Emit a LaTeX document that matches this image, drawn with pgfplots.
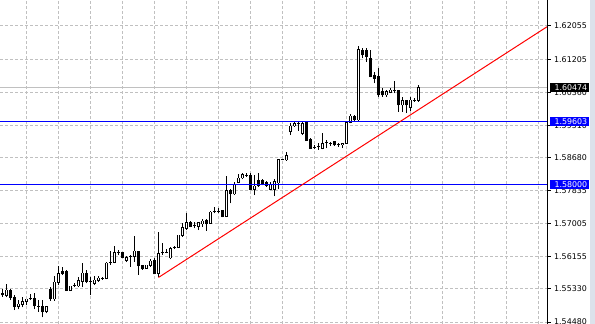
\documentclass[border=0pt]{standalone}
\usepackage{fontspec}
\usepackage{pgfplots}
\usepackage{pgfplotstable}
\pgfplotsset{compat=1.18}
\newfontfamily\tahoma{DejaVu Sans}
\newcommand{\lblfont}{\tahoma\fontsize{7.9bp}{9bp}\selectfont}
\definecolor{gridgray}{RGB}{192,192,192}
\definecolor{mtblue}{RGB}{0,0,255}
\definecolor{strip}{RGB}{220,226,235}
% x = bar number, L = low, B1 = body bottom, B2 = body top, H = high
\pgfplotstableread{
x L B1 B2 H
2 1.55112 1.55153 1.55299 1.55452
5 1.54805 1.54871 1.54941 1.55043
6 1.54856 1.54933 1.55010 1.55112
7 1.54907 1.55010 1.55069 1.55081
8 1.55043 1.55074 1.55074 1.55197
10 1.54744 1.54890 1.54890 1.55043
12 1.54703 1.54744 1.54882 1.54895
14 1.55025 1.55069 1.55504 1.55657
15 1.55419 1.55496 1.55716 1.55921
18 1.55273 1.55281 1.55401 1.55414
19 1.55368 1.55414 1.55414 1.55470
20 1.55368 1.55401 1.55537 1.55639
21 1.55368 1.55511 1.55734 1.55982
23 1.55171 1.55517 1.55517 1.55639
24 1.55427 1.55470 1.55555 1.55657
25 1.55511 1.55537 1.55606 1.55657
26 1.55555 1.55598 1.55598 1.55639
27 1.55573 1.55588 1.55990 1.56015
28 1.55939 1.56008 1.56008 1.56305
29 1.55982 1.56008 1.56264 1.56425
30 1.56195 1.56264 1.56264 1.56323
32 1.56015 1.56049 1.56136 1.56169
33 1.55895 1.56151 1.56151 1.56195
34 1.56023 1.56151 1.56297 1.56681
37 1.55837 1.55844 1.55939 1.55946
38 1.55895 1.55921 1.56041 1.56085
40 1.55620 1.55726 1.56238 1.56783
41 1.56195 1.56253 1.56253 1.56494
42 1.56238 1.56264 1.56264 1.56340
43 1.56085 1.56118 1.56366 1.56407
44 1.56356 1.56381 1.56381 1.56425
45 1.56384 1.56392 1.56706 1.56714
46 1.56663 1.56699 1.56903 1.57006
47 1.56834 1.56878 1.57031 1.57277
49 1.56878 1.56945 1.56945 1.57031
50 1.56834 1.56919 1.57021 1.57047
51 1.56919 1.56988 1.57065 1.57108
53 1.56998 1.57006 1.57295 1.57328
54 1.57262 1.57313 1.57313 1.57415
55 1.57262 1.57313 1.57313 1.57390
57 1.57167 1.57175 1.57840 1.58216
59 1.57730 1.57756 1.57986 1.58070
60 1.58030 1.58045 1.58165 1.58267
61 1.58132 1.58165 1.58249 1.58301
62 1.58198 1.58242 1.58242 1.58285
64 1.57730 1.57876 1.57960 1.58242
68 1.57858 1.57876 1.57994 1.58070
69 1.57704 1.57876 1.58070 1.58132
70 1.57883 1.58037 1.58638 1.58664
71 1.58613 1.58638 1.58638 1.58664
72 1.58607 1.58625 1.58735 1.58830
73 1.59265 1.59350 1.59496 1.59565
74 1.59478 1.59496 1.59565 1.59606
75 1.59375 1.59560 1.59560 1.59606
76 1.59265 1.59309 1.59565 1.59591
79 1.58899 1.58950 1.58950 1.59009
80 1.58882 1.58966 1.58966 1.59053
81 1.58899 1.58925 1.59053 1.59324
82 1.58925 1.59078 1.59078 1.59137
83 1.58984 1.59053 1.59053 1.59094
85 1.58966 1.59035 1.59035 1.59068
86 1.58925 1.59017 1.59053 1.59068
87 1.59035 1.59053 1.59591 1.59606
88 1.59565 1.59591 1.59752 1.59803
90 1.59611 1.59649 1.61453 1.61543
97 1.60245 1.60289 1.60373 1.60417
98 1.60332 1.60358 1.60417 1.60460
99 1.60332 1.60404 1.60404 1.60655
101 1.59862 1.60033 1.60143 1.60245
103 1.59880 1.59974 1.60161 1.60245
104 1.60117 1.60161 1.60161 1.60205
105 1.60117 1.60143 1.60474 1.60545
}\bull
\pgfplotstableread{
x L B1 B2 H
1 1.55127 1.55171 1.55222 1.55317
3 1.55043 1.55112 1.55299 1.55312
4 1.54787 1.54871 1.55112 1.55171
9 1.54805 1.54889 1.55087 1.55230
11 1.54600 1.54736 1.54882 1.55043
13 1.55025 1.55069 1.55325 1.55368
16 1.55683 1.55716 1.55777 1.55895
17 1.55273 1.55281 1.55767 1.55811
22 1.55470 1.55511 1.55734 1.55811
31 1.56131 1.56136 1.56253 1.56259
35 1.55683 1.55921 1.56297 1.56305
36 1.55811 1.55837 1.55939 1.55946
39 1.55696 1.55708 1.56067 1.56110
48 1.56903 1.56919 1.57031 1.57072
52 1.56816 1.56988 1.57072 1.57108
56 1.57159 1.57175 1.57328 1.57346
58 1.57518 1.57756 1.57858 1.57876
63 1.57858 1.57876 1.58242 1.58301
65 1.57942 1.57960 1.58096 1.58285
66 1.57978 1.58011 1.58096 1.58132
67 1.57942 1.57978 1.58062 1.58096
77 1.59112 1.59120 1.59591 1.59598
78 1.58907 1.58925 1.59163 1.59181
84 1.58984 1.59009 1.59094 1.59120
89 1.59624 1.59649 1.59734 1.59777
91 1.61228 1.61313 1.61441 1.61484
92 1.61141 1.61269 1.61423 1.61484
93 1.60742 1.60757 1.61228 1.61441
94 1.60588 1.60716 1.60801 1.60885
95 1.60246 1.60289 1.60757 1.60972
96 1.60245 1.60289 1.60373 1.60460
100 1.59862 1.60033 1.60417 1.60425
102 1.59828 1.60033 1.60143 1.60161
}\bear
\pgfplotsset{
  vbar/.style 2 args={draw=none, mark=none, mark size=0pt, error bars/.cd, y dir=plus, y explicit, error mark=none,
    error bar style={draw=#1, line width=#2, solid}},
}
\begin{document}
\begin{tikzpicture}
\useasboundingbox (0,0) rectangle (595bp,324bp);
\fill[white] (0,0) rectangle (595bp,324bp);
\fill[strip] (590bp,0) rectangle (595bp,324bp);
\begin{axis}[
  at={(0,0)}, anchor=south west, scale only axis,
  width=547bp, height=324bp,
  xmin=0.375, xmax=137.125, ymin=1.54429, ymax=1.62720,
  clip=false,
  axis line style={draw=none},
  xtick={7,15,...,135}, xticklabels={}, xtick style={draw=none},
  ytick={1.54480,1.55330,1.56155,1.57005,1.57835,1.58680,1.59510,1.60360,1.61205,1.62055},
  yticklabels={1.54480,1.55330,1.56155,1.57005,1.57835,1.58680,1.59510,1.60360,1.61205,1.62055},
  ytick pos=right, yticklabel pos=right,
  tick align=outside, major tick length=3.5bp,
  ytick style={black, line width=1bp},
  yticklabel style={anchor=west, inner sep=0pt, font=\lblfont, xshift=3.5bp},
  grid=major,
  major grid style={draw=gridgray, dash pattern=on 3bp off 2bp, line width=1bp},
]
\addplot[gridgray, line width=1bp, solid] coordinates {(0.375,1.60474) (137.125,1.60474)};
% wicks: low to high
\addplot[vbar={black}{0.9bp}] table[x=x, y=L, y error plus expr=\thisrow{H}-\thisrow{L}] {\bull};
\addplot[vbar={black}{0.9bp}] table[x=x, y=L, y error plus expr=\thisrow{H}-\thisrow{L}] {\bear};
% bodies: black box reaching half a pixel beyond the body, then white inside for rising bars
\addplot[vbar={black}{3bp}] table[x=x, y expr=\thisrow{B1}-0.00012, y error plus expr=\thisrow{B2}-\thisrow{B1}+0.00024] {\bull};
\addplot[vbar={black}{3bp}] table[x=x, y expr=\thisrow{B1}-0.00012, y error plus expr=\thisrow{B2}-\thisrow{B1}+0.00024] {\bear};
\addplot[vbar={white}{1.1bp}] table[x=x, y expr=\thisrow{B1}+0.00012, y error plus expr={max(\thisrow{B2}-\thisrow{B1}-0.00024,0)}] {\bull};
% objects
\addplot[color=mtblue, line width=1bp, solid] coordinates {(0.375,1.59603) (137.125,1.59603)};
\addplot[color=mtblue, line width=1bp, solid] coordinates {(0.375,1.58000) (137.125,1.58000)};
\addplot[color=red, line width=1bp, solid] coordinates {(40,1.55620) (137.125,1.62035)};
\draw[black, line width=1bp] (rel axis cs:1,0) -- (rel axis cs:1,1);
\coordinate (pbid) at (axis cs:137.125,1.60474);
\coordinate (pb1) at (axis cs:137.125,1.59603);
\coordinate (pb2) at (axis cs:137.125,1.58000);
\end{axis}
\node[anchor=west, fill=black, text=white, inner xsep=0pt, inner ysep=0pt, minimum height=9bp, text width=39.5bp, align=left, font=\lblfont] at ([xshift=2.3bp]pbid) {\hspace*{5bp}1.60474};
\node[anchor=west, fill=mtblue, text=white, inner xsep=0pt, inner ysep=0pt, minimum height=9bp, text width=39.5bp, align=left, font=\lblfont] at ([xshift=2.3bp]pb1) {\hspace*{5bp}1.59603};
\node[anchor=west, fill=mtblue, text=white, inner xsep=0pt, inner ysep=0pt, minimum height=9bp, text width=39.5bp, align=left, font=\lblfont] at ([xshift=2.3bp]pb2) {\hspace*{5bp}1.58000};
\end{tikzpicture}
\end{document}
